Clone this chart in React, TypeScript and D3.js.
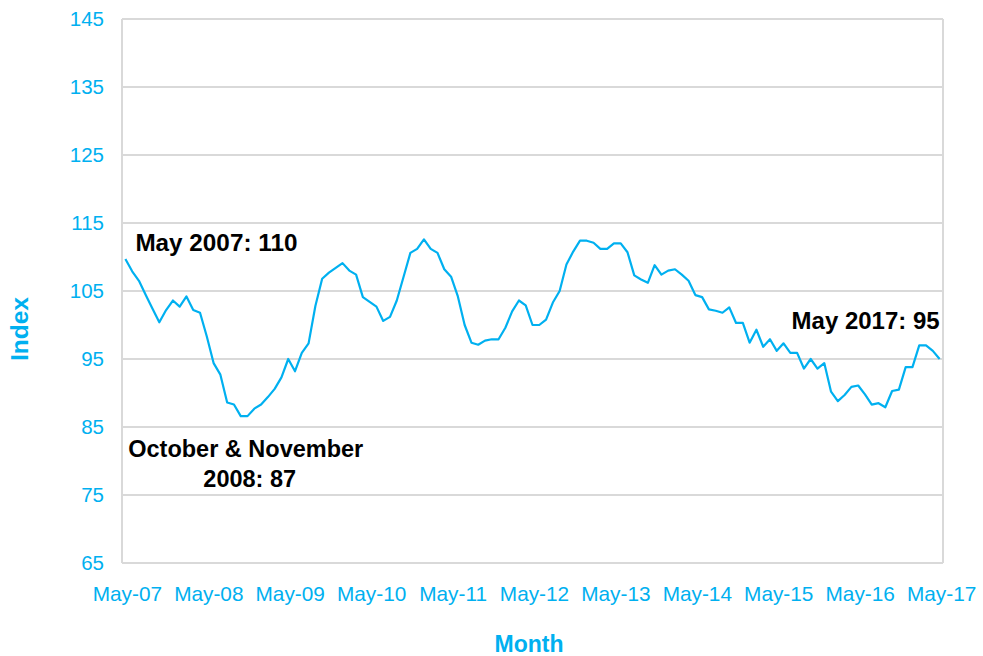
import * as d3 from "d3";

const startMonth = new Date(2007, 4, 1);
const endMonth = new Date(2017, 5, 1);
const months = d3.timeMonth.range(startMonth, endMonth);

// monthly index, May 2007 .. May 2017
const indexValues = [
  109.7, 107.9, 106.5, 104.4, 102.4, 100.4, 102.2, 103.6, 102.7, 104.2, 102.2, 101.8,
  98.3, 94.4, 92.7, 88.6, 88.3, 86.6, 86.6, 87.7, 88.3, 89.4, 90.6, 92.3,
  95.0, 93.2, 95.9, 97.3, 102.8, 106.8, 107.7, 108.4, 109.1, 108.0, 107.4, 104.1,
  103.4, 102.7, 100.6, 101.2, 103.6, 107.1, 110.6, 111.2, 112.6, 111.2, 110.6, 108.2,
  107.1, 104.2, 100.0, 97.4, 97.1, 97.7, 97.9, 97.9, 99.6, 102.0, 103.6, 102.9,
  100.0, 100.0, 100.8, 103.3, 105.0, 108.9, 110.8, 112.4, 112.4, 112.1, 111.2, 111.2,
  112.0, 112.0, 110.7, 107.3, 106.7, 106.2, 108.8, 107.4, 108.0, 108.2, 107.4, 106.5,
  104.4, 104.1, 102.3, 102.1, 101.8, 102.6, 100.3, 100.3, 97.4, 99.3, 96.8, 97.9,
  96.2, 97.3, 95.9, 95.9, 93.6, 95.0, 93.6, 94.4, 90.2, 88.8, 89.7, 90.9,
  91.1, 89.8, 88.3, 88.5, 87.9, 90.3, 90.5, 93.8, 93.8, 97.0, 97.0, 96.2,
  95.0,
];

const yTicks = [65, 75, 85, 95, 105, 115, 125, 135, 145];
const xTickLabels = [
  "May-07", "May-08", "May-09", "May-10", "May-11", "May-12",
  "May-13", "May-14", "May-15", "May-16", "May-17",
];

const blue = "#00b0f0";
const grid = "#d9d9d9";
const font = "Arial, 'Liberation Sans', sans-serif";

export default function App() {
  const width = 983,
    height = 656,
    left = 122,
    right = 943,
    top = 19,
    bottom = 563;

  const x = d3
    .scalePoint<number>()
    .domain(d3.range(months.length))
    .range([left, right])
    .padding(0.5);

  const y = d3.scaleLinear().domain([65, 145]).range([bottom, top]);

  const line = d3
    .line<number>()
    .x((_, i) => x(i) as number)
    .y((d) => y(d));

  const ptX = (i: number) => x(i) as number;

  return (
    <svg
      width={width}
      height={height}
      style={{ position: "absolute", left: 0, top: 0, background: "#fff", fontFamily: font }}
    >
      {/* gridlines */}
      <g>
        {yTicks.map((t) => (
          <line key={t} x1={left} x2={right} y1={y(t)} y2={y(t)} stroke={grid} strokeWidth={2} />
        ))}
        <line x1={left} x2={left} y1={top} y2={bottom} stroke={grid} strokeWidth={2} />
        <line x1={right} x2={right} y1={top} y2={bottom} stroke={grid} strokeWidth={2} />
      </g>

      {/* y tick labels */}
      <g fill={blue} fontSize={20.5} textAnchor="end">
        {yTicks.map((t) => (
          <text key={t} x={104} y={y(t)} dy="0.36em">
            {t}
          </text>
        ))}
      </g>

      {/* x tick labels */}
      <g fill={blue} fontSize={20.8} textAnchor="middle">
        {xTickLabels.map((lab, k) => (
          <text key={lab} x={ptX(k * 12) + 2} y={bottom + 38}>
            {lab}
          </text>
        ))}
      </g>

      {/* axis titles */}
      <text x={529} y={652} fill={blue} fontSize={23} fontWeight="bold" textAnchor="middle">
        Month
      </text>
      <text
        transform={`translate(28,${329}) rotate(-90)`}
        fill={blue}
        fontSize={24.5}
        fontWeight="bold"
        textAnchor="middle"
      >
        Index
      </text>

      {/* series */}
      <path d={line(indexValues) ?? ""} fill="none" stroke={blue} strokeWidth={2.2} strokeLinejoin="round" />

      {/* annotations */}
      <g fill="#000" fontSize={23.5} fontWeight="bold">
        <text x={ptX(0) + 10} y={251} textLength={162} lengthAdjust="spacingAndGlyphs">May 2007: 110</text>
        <text x={ptX(17) + 5} y={457} textAnchor="middle">October &amp; November</text>
        <text x={ptX(17) + 9} y={487} textAnchor="middle">2008: 87</text>
        <text x={ptX(120) - 148} y={329} textLength={148} lengthAdjust="spacingAndGlyphs">May 2017: 95</text>
      </g>
    </svg>
  );
}
